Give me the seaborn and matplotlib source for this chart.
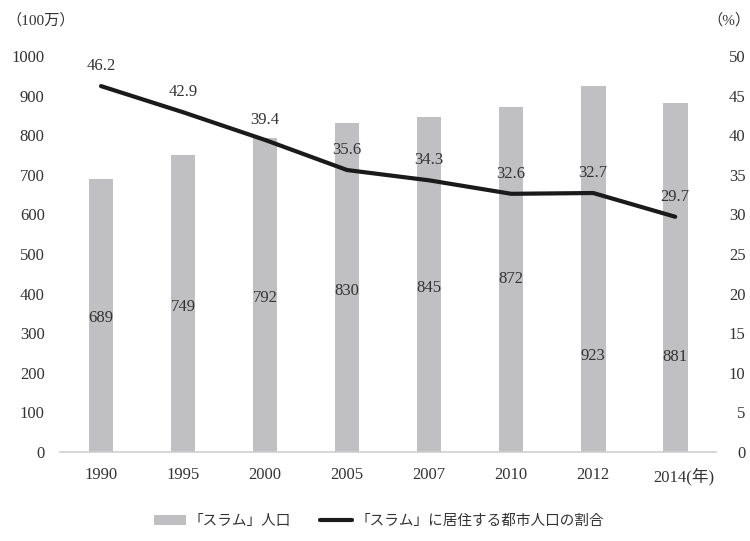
import matplotlib
matplotlib.use("Agg")
import matplotlib.pyplot as plt
import matplotlib.transforms as mtrans
import seaborn as sns
import pandas as pd
from matplotlib.patches import Patch
from matplotlib.lines import Line2D

years = ["1990", "1995", "2000", "2005", "2007", "2010", "2012", "2014"]
slum_pop = [689, 749, 792, 830, 845, 872, 923, 881]
slum_share = [46.2, 42.9, 39.4, 35.6, 34.3, 32.6, 32.7, 29.7]
left_ticks = [0, 100, 200, 300, 400, 500, 600, 700, 800, 900, 1000]
right_ticks = [0, 5, 10, 15, 20, 25, 30, 35, 40, 45, 50]
bar_label = "「スラム」人口"
line_label = "「スラム」に居住する都市人口の割合"
year_unit = "(年)"

sns.set_theme(style="white")
plt.rcParams['font.family'] = ['Liberation Serif', 'Noto Sans CJK JP', 'DejaVu Sans']

df = pd.DataFrame({"year": years, "pop": slum_pop, "share": slum_share})
txt = "#333333"

fig = plt.figure(figsize=(7.5, 5.41), dpi=100)
ax = fig.add_axes([0.08, 0.1645, 0.875, 0.732])
bar_color = "#c0c0c3"
sns.barplot(data=df, x="year", y="pop", color=bar_color, width=0.3, ax=ax,
            saturation=1, edgecolor="none")
ax.set_ylim(0, 1000)
ax.set_xlim(-0.5, len(years) - 0.5)
ax.set_yticks(left_ticks)
ax.set_xlabel("")
ax.set_ylabel("")
for s in ["top", "right", "left"]:
    ax.spines[s].set_visible(False)
ax.spines["bottom"].set_color("#d0d0d0")
ax.spines["bottom"].set_linewidth(1.2)
ax.tick_params(axis="both", length=0, labelsize=12, colors=txt)
ax.tick_params(axis="y", pad=11)
ax.tick_params(axis="x", pad=11)
xt_labels = years[:-1] + [years[-1] + year_unit]
ax.set_xticks(range(len(years)))
ax.set_xticklabels(xt_labels)
last = ax.get_xticklabels()[-1]
last.set_transform(last.get_transform() + mtrans.ScaledTranslation(9 / 100, 0, fig.dpi_scale_trans))

# bar value labels
label_frac = [0.49, 0.49, 0.49, 0.49, 0.49, 0.5, 0.262, 0.272]
for i, (v, f) in enumerate(zip(slum_pop, label_frac)):
    ax.text(i, v * f, str(v), ha="center", va="center", fontsize=12, color=txt)

ax2 = ax.twinx()
sns.lineplot(x=list(range(len(years))), y=slum_share, ax=ax2, color="#1a1a1a",
             linewidth=3.0)
ax2.set_ylim(0, 50)
ax2.set_yticks(right_ticks)
for s in ["top", "right", "left", "bottom"]:
    ax2.spines[s].set_visible(False)
ax2.tick_params(axis="y", length=0, labelsize=12, colors=txt, pad=21)
for lab in ax2.get_yticklabels():
    lab.set_horizontalalignment("right")
ax2.set_ylabel("")
for i, v in enumerate(slum_share):
    ax2.text(i, v + 1.5, f"{v:.1f}", ha="center", va="bottom", fontsize=12, color=txt)

fig.text(0.008, 0.963, "（100万）", ha="left", va="center", fontsize=11, color=txt)
fig.text(1.0, 0.963, "（%）", ha="right", va="center", fontsize=11, color=txt)

handles = [Patch(facecolor=bar_color, edgecolor="none"),
           Line2D([0], [0], color="#1a1a1a", linewidth=3.0)]
fig.legend(handles, [bar_label, line_label], loc="center", bbox_to_anchor=(0.505, 0.037),
           ncol=2, frameon=False, fontsize=10.5, handlelength=2.2, handleheight=0.7,
           columnspacing=2.0, handletextpad=0.2, labelcolor=txt)

fig.savefig("out.png", dpi=100)
